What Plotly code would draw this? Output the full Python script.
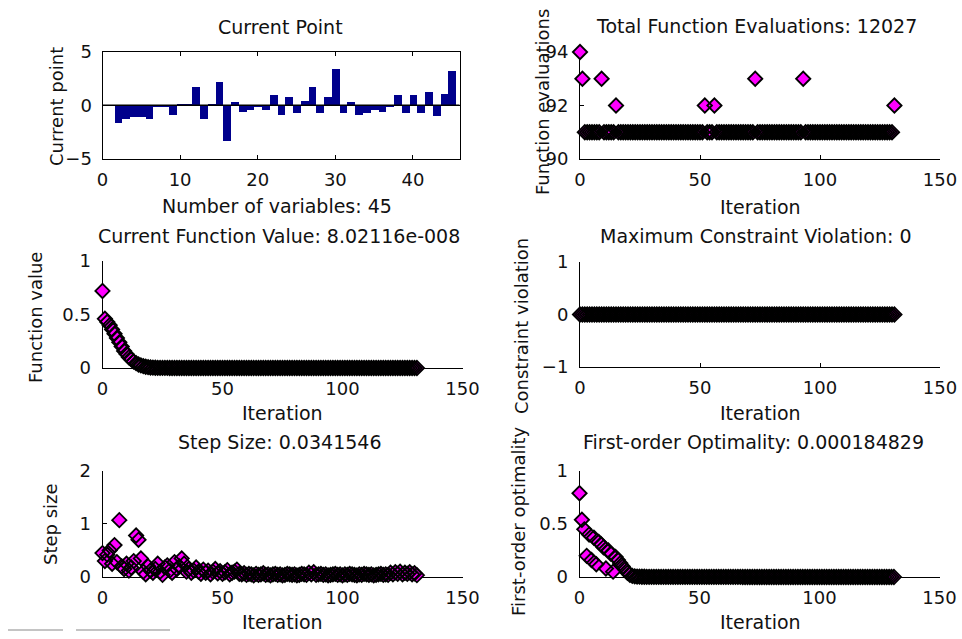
import plotly.graph_objects as go

W, H = 962, 639

# ---------------- data ----------------
var_index = list(range(1, 46))
current_point = [0.0, -1.6, -1.2, -1.1, -1.1, -1.2, -0.15, -0.15, -0.9, 0.2,
                 0.2, 1.74, -1.2, 0.2, 2.2, -3.3, 0.34, -0.6, -0.43, -0.05,
                 -0.43, 0.96, -0.84, 0.8, -0.68, 0.47, 1.74, -0.68, 0.8, 3.45,
                 -0.68, 0.34, -0.84, -0.68, -0.43, -0.6, -0.05, 0.96, -0.68, 0.96,
                 -0.68, 1.27, -1.0, 1.1, 3.26]

iterations = list(range(0, 132))

func_evals = [94, 93, 91, 91, 91, 91, 91, 91, 91, 93,
              91, 91, 91, 91, 91, 92, 91, 91, 91, 91,
              91, 91, 91, 91, 91, 91, 91, 91, 91, 91,
              91, 91, 91, 91, 91, 91, 91, 91, 91, 91,
              91, 91, 91, 91, 91, 91, 91, 91, 91, 91,
              91, 91, 92, 91, 91, 91, 92, 91, 91, 91,
              91, 91, 91, 91, 91, 91, 91, 91, 91, 91,
              91, 91, 91, 93, 91, 91, 91, 91, 91, 91,
              91, 91, 91, 91, 91, 91, 91, 91, 91, 91,
              91, 91, 91, 93, 91, 91, 91, 91, 91, 91,
              91, 91, 91, 91, 91, 91, 91, 91, 91, 91,
              91, 91, 91, 91, 91, 91, 91, 91, 91, 91,
              91, 91, 91, 91, 91, 91, 91, 91, 91, 91,
              91, 92]

func_value = [0.72, 0.46, 0.43, 0.40, 0.36, 0.32, 0.28, 0.24, 0.20, 0.16,
              0.13, 0.10, 0.08, 0.06, 0.045, 0.033, 0.024, 0.017, 0.012, 0.008,
              0.005, 0.003, 0.002, 0.0015, 0.001, 8e-4, 6e-4, 5e-4, 4e-4, 3e-4,
              2.5e-4, 2e-4, 1.8e-4, 1.6e-4, 1.4e-4, 1.2e-4, 1e-4, 9e-5, 8e-5, 7e-5,
              6e-5, 5e-5, 4.5e-5, 4e-5, 3.5e-5, 3e-5, 2.8e-5, 2.5e-5, 2.2e-5, 2e-5,
              1.8e-5, 1.6e-5, 1.4e-5, 1.2e-5, 1e-5, 9e-6, 8e-6, 7e-6, 6e-6, 5e-6,
              4.5e-6, 4e-6, 3.6e-6, 3.2e-6, 2.9e-6, 2.6e-6, 2.4e-6, 2.2e-6, 2e-6, 1.8e-6,
              1.7e-6, 1.6e-6, 1.5e-6, 1.4e-6, 1.3e-6, 1.2e-6, 1.1e-6, 1e-6, 9.5e-7, 9e-7,
              8.5e-7, 8e-7, 7.5e-7, 7e-7, 6.6e-7, 6.2e-7, 5.8e-7, 5.5e-7, 5.2e-7, 4.9e-7,
              4.6e-7, 4.3e-7, 4e-7, 3.8e-7, 3.6e-7, 3.4e-7, 3.2e-7, 3e-7, 2.8e-7, 2.6e-7,
              2.5e-7, 2.4e-7, 2.3e-7, 2.2e-7, 2.1e-7, 2e-7, 1.9e-7, 1.8e-7, 1.7e-7, 1.6e-7,
              1.5e-7, 1.45e-7, 1.4e-7, 1.35e-7, 1.3e-7, 1.25e-7, 1.2e-7, 1.15e-7, 1.1e-7, 1.05e-7,
              1e-7, 9.8e-8, 9.6e-8, 9.4e-8, 9.2e-8, 9e-8, 8.8e-8, 8.6e-8, 8.4e-8, 8.2e-8,
              8.1e-8, 8.02116e-8]

constraint_violation = [0] * 132

step_size = [0.45, 0.30, 0.42, 0.50, 0.25, 0.60, 0.28, 1.07, 0.20, 0.15,
             0.25, 0.12, 0.18, 0.30, 0.78, 0.70, 0.35, 0.10, 0.05, 0.20,
             0.12, 0.08, 0.15, 0.25, 0.10, 0.04, 0.18, 0.22, 0.12, 0.08,
             0.28, 0.15, 0.20, 0.35, 0.25, 0.10, 0.15, 0.08, 0.12, 0.18,
             0.10, 0.06, 0.14, 0.08, 0.12, 0.05, 0.10, 0.15, 0.07, 0.11,
             0.06, 0.09, 0.13, 0.05, 0.08, 0.10, 0.14, 0.06, 0.05, 0.07,
             0.04, 0.06, 0.05, 0.03, 0.06, 0.04, 0.05, 0.07, 0.04, 0.05,
             0.03, 0.05, 0.06, 0.04, 0.05, 0.03, 0.04, 0.06, 0.05, 0.04,
             0.05, 0.03, 0.04, 0.06, 0.05, 0.04, 0.08, 0.05, 0.09, 0.04,
             0.05, 0.06, 0.04, 0.05, 0.03, 0.04, 0.05, 0.06, 0.04, 0.05,
             0.03, 0.05, 0.04, 0.06, 0.05, 0.04, 0.03, 0.05, 0.04, 0.06,
             0.05, 0.04, 0.05, 0.03, 0.04, 0.05, 0.06, 0.04, 0.05, 0.04,
             0.08, 0.05, 0.09, 0.06, 0.10, 0.05, 0.08, 0.06, 0.09, 0.05,
             0.07, 0.0341546]

optimality = [0.79, 0.54, 0.45, 0.20, 0.40, 0.16, 0.37, 0.12, 0.33, 0.31,
              0.28, 0.08, 0.25, 0.22, 0.05, 0.19, 0.16, 0.13, 0.10, 0.07,
              0.04, 0.02, 0.01, 0.006, 0.004, 0.003, 0.0025, 0.002, 0.0018, 0.0016,
              0.0015, 0.0014, 0.0013, 0.0012, 0.0011, 0.001, 0.00098, 0.00096, 0.00094, 0.00092,
              0.0009, 0.00088, 0.00086, 0.00084, 0.00082, 0.0008, 0.00078, 0.00076, 0.00074, 0.00072,
              0.0007, 0.00068, 0.00066, 0.00064, 0.00062, 0.0006, 0.00058, 0.00056, 0.00054, 0.00052,
              0.0005, 0.00049, 0.00048, 0.00047, 0.00046, 0.00045, 0.00044, 0.00043, 0.00042, 0.00041,
              0.0004, 0.00039, 0.00038, 0.00037, 0.00036, 0.00035, 0.00034, 0.00033, 0.00032, 0.00031,
              0.0003, 0.00029, 0.00029, 0.00028, 0.00028, 0.00027, 0.00027, 0.00026, 0.00026, 0.00025,
              0.00025, 0.00024, 0.00024, 0.00023, 0.00023, 0.00022, 0.00022, 0.00022, 0.00021, 0.00021,
              0.00021, 0.0002, 0.0002, 0.0002, 0.0002, 0.000198, 0.000196, 0.000194, 0.000193, 0.000192,
              0.000191, 0.00019, 0.000189, 0.000189, 0.000188, 0.000188, 0.000187, 0.000187, 0.000186, 0.000186,
              0.000186, 0.000185, 0.000185, 0.000185, 0.000185, 0.000185, 0.000185, 0.000185, 0.000185, 0.000185,
              0.000185, 0.000184829]

iter_ticks = [0, 50, 100, 150]

# ---------------- styling ----------------
FONT = "DejaVu Sans"
TITLE_SIZE = 19
YLABEL_SIZE = 18
TICK_SIZE = 18
MAG = "#ff00ff"
BAR = "#00008c"


def dx(a, b):
    return [a / W, b / W]


def dy(top, bottom):
    return [1 - bottom / H, 1 - top / H]


fig = go.Figure()

fig.add_trace(go.Bar(x=var_index, y=current_point, marker=dict(color=BAR, line=dict(width=0)),
                     width=1.0, xaxis="x", yaxis="y", showlegend=False))


def diamonds(x, y, ax):
    # faces first, then all edges on top (as the original renderer does)
    fig.add_trace(go.Scatter(x=x, y=y, mode="markers", xaxis="x" + ax, yaxis="y" + ax,
                             marker=dict(symbol="diamond", size=11, color=MAG, line=dict(width=0)),
                             cliponaxis=False, showlegend=False, hoverinfo="skip"))
    fig.add_trace(go.Scatter(x=x, y=y, mode="markers", xaxis="x" + ax, yaxis="y" + ax,
                             marker=dict(symbol="diamond-open", size=11, color="black",
                                         line=dict(color="black", width=1.8)),
                             cliponaxis=False, showlegend=False))


diamonds(iterations, func_evals, "2")
diamonds(iterations, func_value, "3")
diamonds(iterations, constraint_violation, "4")
diamonds(iterations, step_size, "5")
diamonds(iterations, optimality, "6")

common = dict(showline=True, linecolor="black", linewidth=1, ticks="inside", ticklen=4,
              tickcolor="black", tickwidth=1, showgrid=False, zeroline=False, automargin=False,
              tickfont=dict(family=FONT, size=TICK_SIZE, color="#111"), fixedrange=True)

lay = dict(
    width=W, height=H, margin=dict(l=0, r=0, t=0, b=0, pad=0, autoexpand=False),
    paper_bgcolor="white", plot_bgcolor="white", bargap=0, showlegend=False,
    font=dict(family=FONT, color="#111"),
)

lay["xaxis"] = dict(common, domain=dx(102.5, 459.5), range=[0, 46], tickvals=[0, 10, 20, 30, 40],
                    mirror="ticks", anchor="y", ticklabelstandoff=4)
lay["yaxis"] = dict(common, domain=dy(51.7, 159), range=[-5, 5], tickvals=[-5, 0, 5],
                    mirror="ticks", anchor="x", ticklabelstandoff=6)

panels = {
    "2": dict(x=dx(580, 940), y=dy(52, 159), yr=[90, 94], yt=[90, 92, 94]),
    "3": dict(x=dx(102.5, 462.5), y=dy(261, 368), yr=[0, 1], yt=[0, 0.5, 1]),
    "4": dict(x=dx(580, 940), y=dy(262, 367), yr=[-1, 1], yt=[-1, 0, 1]),
    "5": dict(x=dx(102.5, 462.5), y=dy(470.7, 577), yr=[0, 2], yt=[0, 1, 2]),
    "6": dict(x=dx(579.5, 939.5), y=dy(471, 577), yr=[0, 1], yt=[0, 0.5, 1]),
}
for k, p in panels.items():
    lay["xaxis" + k] = dict(common, domain=p["x"], range=[0, 150], tickvals=iter_ticks,
                            anchor="y" + k, layer="below traces", ticklabelstandoff=4)
    lay["yaxis" + k] = dict(common, domain=p["y"], range=p["yr"], tickvals=p["yt"],
                            anchor="x" + k, layer="below traces", ticklabelstandoff=7)

fig.update_layout(**lay)

# zero baseline of the bar chart
fig.add_shape(type="line", xref="x domain", yref="y", x0=0, x1=1, y0=0, y1=0,
              line=dict(color="black", width=1.5), layer="above")

# grey window artefacts at the bottom-left
for a, b in [(8, 63), (76, 170)]:
    fig.add_shape(type="line", xref="paper", yref="paper", x0=a / W, x1=b / W,
                  y0=1 - 630 / H, y1=1 - 630 / H, line=dict(color="#c4c4c4", width=2))


def ann(text, px, py, angle=0, size=TITLE_SIZE):
    fig.add_annotation(text=text, x=px / W, y=1 - py / H, xref="paper", yref="paper",
                       xanchor="center", yanchor="middle", showarrow=False, textangle=angle,
                       font=dict(family=FONT, size=size, color="#111"))


# titles
ann("Current Point", 280, 27)
ann("Total Function Evaluations: 12027", 756, 26)
ann("Current Function Value: 8.02116e-008", 279, 236)
ann("Maximum Constraint Violation: 0", 756, 236)
ann("Step Size: 0.0341546", 280, 442)
ann("First-order Optimality: 0.000184829", 753, 442)

# x labels
ann("Number of variables: 45", 277, 206)
ann("Iteration", 760, 207)
ann("Iteration", 282, 413)
ann("Iteration", 760, 413)
ann("Iteration", 282, 622)
ann("Iteration", 760, 622)

# y labels
ann("Current point", 57, 107, -90, YLABEL_SIZE)
ann("Function evaluations", 543, 102, -90, YLABEL_SIZE)
ann("Function value", 35, 318, -90, YLABEL_SIZE)
ann("Constraint violation", 521, 326, -90, YLABEL_SIZE)
ann("Step size", 50, 524, -90, YLABEL_SIZE)
ann("First-order optimality", 518, 521, -90, YLABEL_SIZE)

fig.write_html("out.html")
